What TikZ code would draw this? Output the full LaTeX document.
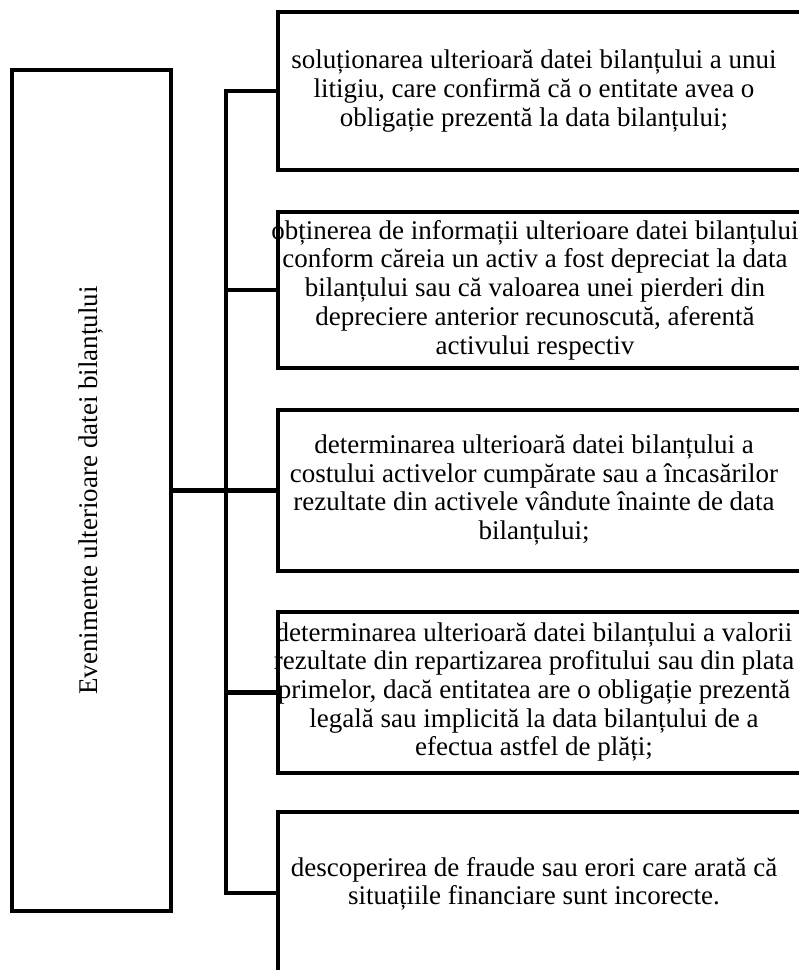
\documentclass[tikz,border=0pt]{standalone}
\usepackage{fontspec}
\setmainfont{Liberation Serif}
\begin{document}
\begin{tikzpicture}[x=1pt,y=-1pt,
  frame/.style={draw=black, line width=4.5pt, rectangle, inner sep=0pt, outer sep=0pt},
  wire/.style={draw=black, line width=4.5pt},
  caption/.style={align=center, inner sep=0pt, font=\fontsize{27}{28.7}\selectfont}]
  \clip (0,0) rectangle (799,970);
  \fill[white] (0,0) rectangle (799,970);

  % main (left) box with vertical title
  \node[frame, minimum width=159pt, minimum height=841pt] (main) at (91.5,490.5) {};
  \node[caption, rotate=90] (title) at (main.center) {Evenimente ulterioare datei bilanțului};

  % right-hand boxes (they run past the right edge)
  \node[frame, anchor=north west, minimum width=560pt, minimum height=158pt] (b1) at (278,12) {};
  \node[frame, anchor=north west, minimum width=560pt, minimum height=156pt] (b2) at (278,212) {};
  \node[frame, anchor=north west, minimum width=560pt, minimum height=161pt] (b3) at (278,410) {};
  \node[frame, anchor=north west, minimum width=560pt, minimum height=161pt] (b4) at (278,612) {};
  \node[frame, anchor=north west, minimum width=560pt, minimum height=162pt] (b5) at (278,812) {};

  % box texts
  \node[caption] (t1) at (534,91) {soluționarea ulterioară datei bilanțului a unui\\litigiu, care confirmă că o entitate avea o\\obligație prezentă la data bilanțului;};
  \node[caption] (t2) at (535,290) {obținerea de informații ulterioare datei bilanțului\\conform căreia un activ a fost depreciat la data\\bilanțului sau că valoarea unei pierderi din\\depreciere anterior recunoscută, aferentă\\activului respectiv};
  \node[caption] (t3) at (534,490) {determinarea ulterioară datei bilanțului a\\costului activelor cumpărate sau a încasărilor\\rezultate din activele vândute înainte de data\\bilanțului;};
  \node[caption] (t4) at (534,692) {determinarea ulterioară datei bilanțului a valorii\\rezultate din repartizarea profitului sau din plata\\primelor, dacă entitatea are o obligație prezentă\\legală sau implicită la data bilanțului de a\\efectua astfel de plăți;};
  \node[caption] (t5) at (534,884) {descoperirea de fraude sau erori care arată că\\situațiile financiare sunt incorecte.};

  % connectors
  \coordinate (hub) at (226,490.5);
  \coordinate (top) at (hub |- b1.west);
  \coordinate (bot) at (hub |- b5.west);
  \draw[wire] (main.east) -- (hub);
  \draw[wire] (b1.west) -- (top) -- (bot) -- (b5.west);
  \draw[wire] (hub |- b2.west) -- (b2.west);
  \draw[wire] (hub |- b3.west) -- (b3.west);
  \draw[wire] (hub |- b4.west) -- (b4.west);
\end{tikzpicture}
\end{document}
